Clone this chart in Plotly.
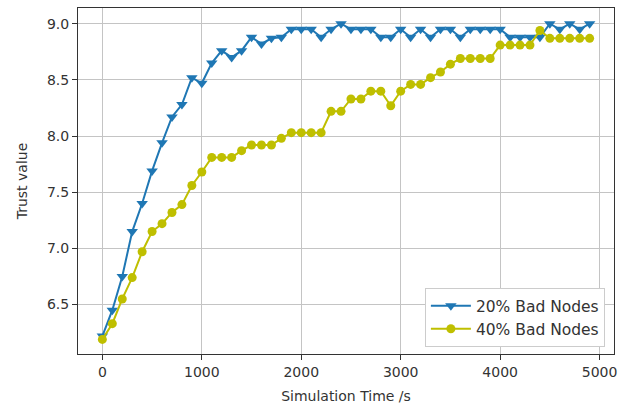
import plotly.graph_objects as go

time_s = [i * 100 for i in range(50)]

trust_20 = [6.22, 6.45, 6.75, 7.15, 7.40, 7.69, 7.94, 8.17, 8.28, 8.52,
            8.47, 8.65, 8.76, 8.70, 8.76, 8.88, 8.82, 8.87, 8.88, 8.95,
            8.95, 8.95, 8.88, 8.95, 9.00, 8.95, 8.95, 8.95, 8.88, 8.88,
            8.95, 8.88, 8.95, 8.88, 8.95, 8.95, 8.88, 8.95, 8.95, 8.95,
            8.95, 8.88, 8.88, 8.88, 8.88, 9.00, 8.95, 9.00, 8.95, 9.00]

trust_40 = [6.19, 6.33, 6.55, 6.74, 6.97, 7.15, 7.22, 7.32, 7.39, 7.56,
            7.68, 7.81, 7.81, 7.81, 7.87, 7.92, 7.92, 7.92, 7.98, 8.03,
            8.03, 8.03, 8.03, 8.22, 8.22, 8.33, 8.33, 8.40, 8.40, 8.27,
            8.40, 8.46, 8.46, 8.52, 8.57, 8.64, 8.69, 8.69, 8.69, 8.69,
            8.81, 8.81, 8.81, 8.81, 8.94, 8.87, 8.87, 8.87, 8.87, 8.87]

series_names = ["20% Bad Nodes", "40% Bad Nodes"]
x_ticks = [0, 1000, 2000, 3000, 4000, 5000]
y_ticks = [6.5, 7.0, 7.5, 8.0, 8.5, 9.0]

fig = go.Figure()
fig.add_trace(go.Scatter(
    x=time_s, y=trust_20, name=series_names[0], mode="lines+markers",
    line=dict(color="#1f77b4", width=2),
    marker=dict(symbol="triangle-down", size=10, color="#1f77b4"),
))
fig.add_trace(go.Scatter(
    x=time_s, y=trust_40, name=series_names[1], mode="lines+markers",
    line=dict(color="#bfbf00", width=2),
    marker=dict(symbol="circle", size=9, color="#bfbf00"),
))

axis_common = dict(
    showgrid=True, gridcolor="#c4c4c4", gridwidth=1,
    showline=True, linecolor="#333333", linewidth=1, mirror=True,
    ticks="outside", ticklen=5, tickcolor="#333333",
    tickfont=dict(family="DejaVu Sans", size=14, color="#333333"),
    zeroline=False,
)

fig.update_layout(
    width=633, height=409,
    margin=dict(l=78, r=19, t=7, b=54),
    paper_bgcolor="white", plot_bgcolor="white",
    font=dict(family="DejaVu Sans", size=14, color="#333333"),
    xaxis=dict(range=[-245, 5145], tickvals=x_ticks,
               title=dict(text="Simulation Time /s", font=dict(size=14), standoff=12),
               **axis_common),
    yaxis=dict(range=[6.06, 9.14], tickvals=y_ticks, tickformat=".1f",
               title=dict(text="Trust value", font=dict(size=14), standoff=16),
               **axis_common),
    legend=dict(x=0.983, y=0.02, xanchor="right", yanchor="bottom",
                bgcolor="white", bordercolor="#cccccc", borderwidth=1,
                font=dict(size=15.5, color="#333333"), tracegroupgap=2,
                itemwidth=40),
    showlegend=True,
)

fig.write_html("out.html", config={"displayModeBar": False},
               post_script="document.body.style.margin='0px';")
